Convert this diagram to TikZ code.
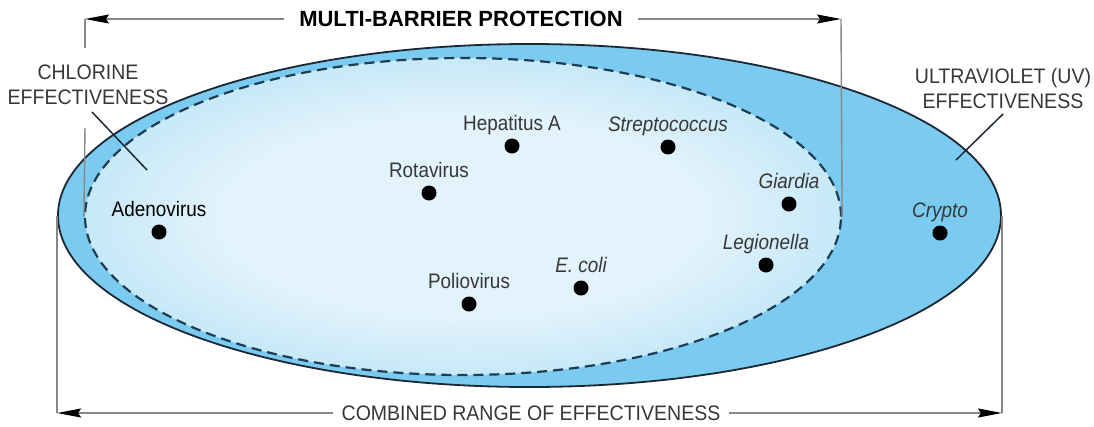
\documentclass[tikz,border=0pt]{standalone}
\usepackage{fontspec}
\setmainfont{Liberation Sans}[FakeStretch=0.9]
\newfontfamily\capsfont{Liberation Sans}[FakeStretch=0.93]
\newfontfamily\boldhead{Liberation Sans}
\usetikzlibrary{arrows.meta,calc,shapes.geometric}
\definecolor{band}{RGB}{122,203,239}
\definecolor{core}{RGB}{226,243,251}
\definecolor{rimc}{RGB}{27,40,52}
\definecolor{dashc}{RGB}{30,60,85}
\definecolor{txt}{RGB}{55,55,55}
\definecolor{brk}{RGB}{135,135,135}
\pgfdeclareradialshading{coreshade}{\pgfpoint{0bp}{0bp}}{color(0bp)=(core); color(16bp)=(core); color(50bp)=(band)}
\begin{document}
\begin{tikzpicture}[x=1pt,y=-1pt,
  dotnode/.style={circle,fill=black,minimum size=15pt,inner sep=0pt},
  lbl/.style={anchor=base,text=txt,font=\fontsize{21}{25}\selectfont,inner sep=0pt},
  ilbl/.style={lbl,font=\fontsize{21}{25}\selectfont\itshape},
  caption/.style={text=txt,font=\capsfont\fontsize{21}{25}\selectfont,align=center,inner sep=0pt},
  brkline/.style={draw=brk,line width=1.4pt},
  brkarrow/.style={brkline,-{Stealth[length=24pt,width=9pt,inset=3pt,color=black]}},
  leader/.style={draw=rimc,line width=1.5pt}
]
\useasboundingbox (0,0) rectangle (1094,426);

% ellipses
\node[ellipse,minimum width=943pt,minimum height=343pt,inner sep=0pt,
      fill=band,draw=rimc,line width=1.8pt] (uv) at (529.5,215.5) {};
\node[ellipse,minimum width=756pt,minimum height=317pt,inner sep=0pt,
      shade,shading=coreshade,draw=dashc,line width=2.2pt,
      dash pattern=on 10pt off 6pt] (cl) at (463,216.5) {};

% top bracket
\node[font=\boldhead\fontsize{22}{26}\selectfont\bfseries,text=black,inner xsep=15pt,inner ysep=0pt] (mb) at (461,19) {MULTI-BARRIER PROTECTION};
\coordinate (mbL) at (85,19);
\coordinate (mbR) at (841,19);
\coordinate (gapA) at (85,48);
\coordinate (gapB) at (85,128);
\draw[brkarrow] (mb.west) -- (mbL);
\draw[brkarrow] (mb.east) -- (mbR);
\draw[brkline] (mbL) -- (gapA);
\draw[brkline] (gapB) -- (cl.west);
\draw[brkline] (mbR) -- (cl.east);

% bottom bracket
\node[caption,inner xsep=8pt] (cb) at (531,413) {COMBINED RANGE OF EFFECTIVENESS};
\coordinate (cbL) at (uv.west |- cb.center);
\coordinate (cbR) at (uv.east |- cb.center);
\draw[brkline] (uv.west) -- (cbL);
\draw[brkline] (uv.east) -- (cbR);
\draw[brkarrow] (cb.west) -- (cbL);
\draw[brkarrow] (cb.east) -- (cbR);

% side captions
\node[caption] (chl) at (88,85) {CHLORINE\\EFFECTIVENESS};
\node[caption] (uvt) at (1003,88) {ULTRAVIOLET (UV)\\EFFECTIVENESS};
\coordinate (chlA) at (92,112);
\coordinate (chlB) at (147,170);
\coordinate (uvA) at (1003,114);
\coordinate (uvB) at (956,160);
\draw[leader] (chlA) -- (chlB);
\draw[leader] (uvA) -- (uvB);

% organisms
\node[dotnode] (adeno) at (159,232) {};
\node[lbl,text=black] (adenoL) at (159,216) {Adenovirus};
\node[dotnode] (hepa) at (512,146) {};
\node[lbl] (hepaL) at (512,130) {Hepatitus A};
\node[dotnode] (strep) at (668,147) {};
\node[ilbl] (strepL) at (668,131) {Streptococcus};
\node[dotnode] (rota) at (429,193) {};
\node[lbl] (rotaL) at (429,177) {Rotavirus};
\node[dotnode] (giar) at (789,204) {};
\node[ilbl] (giarL) at (789,188) {Giardia};
\node[dotnode] (crypto) at (940,233) {};
\node[ilbl] (cryptoL) at (940,217) {Crypto};
\node[dotnode] (legio) at (766,265) {};
\node[ilbl] (legioL) at (766,249) {Legionella};
\node[dotnode] (ecoli) at (581,288) {};
\node[ilbl] (ecoliL) at (581,272) {E. coli};
\node[dotnode] (polio) at (469,304) {};
\node[lbl] (polioL) at (469,288) {Poliovirus};
\end{tikzpicture}
\end{document}
